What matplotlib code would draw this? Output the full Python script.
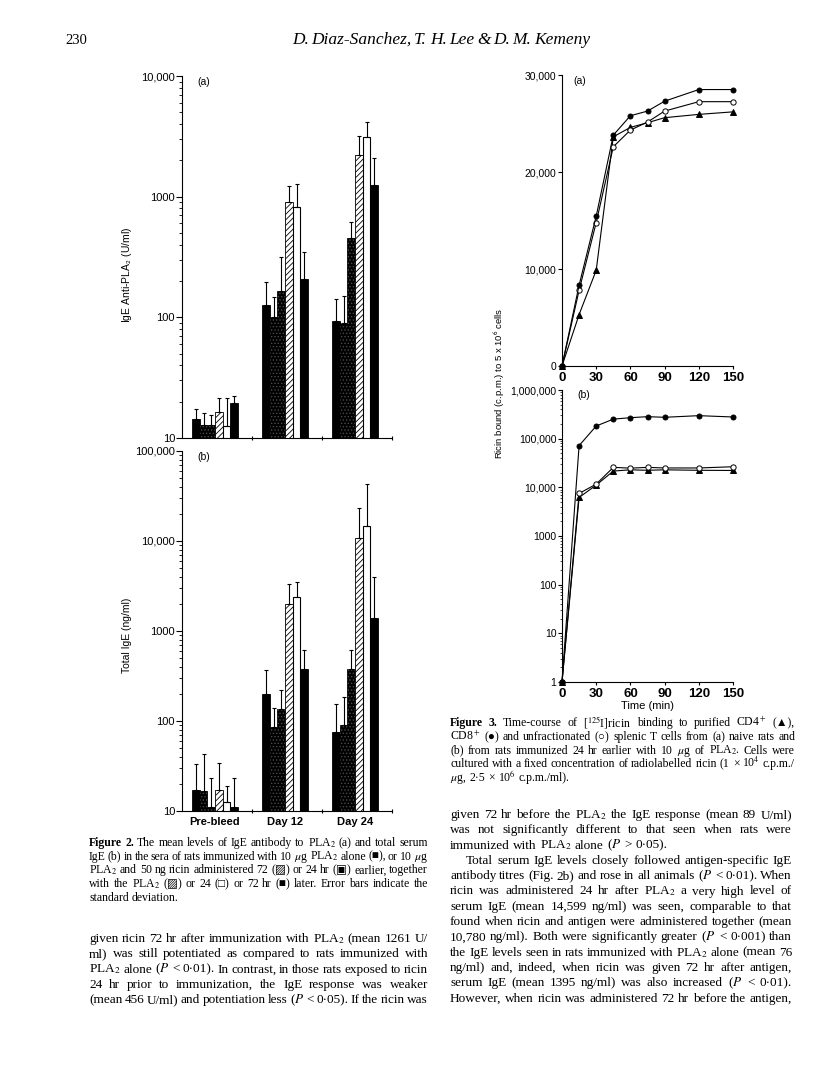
import matplotlib
matplotlib.use('Agg')
import matplotlib.pyplot as plt
from matplotlib.ticker import FixedLocator, FuncFormatter, LogLocator, NullFormatter
import numpy as np

W, H = 816, 1089
SANS = ['Liberation Sans', 'DejaVu Sans']
SERIF = ['Liberation Serif', 'DejaVu Sans']
plt.rcParams['font.family'] = SANS
plt.rcParams['mathtext.fontset'] = 'stix'
plt.rcParams['hatch.linewidth'] = 0.6

# ---- Figure 2 data (mean and SD, one value per treatment) ----
groups = ['Pre-bleed', 'Day 12', 'Day 24']
treatments = ['PLA2 alone', 'ricin 72 hr before', 'ricin 24 hr before',
              'ricin together', 'ricin 24 hr after', 'ricin 72 hr after']

anti_prebleed = [14.3, 12.8, 12.9, 16.5, 12.6, 19.6]
anti_day12 = [126, 100, 165, 908, 820, 206]
anti_day24 = [93, 89, 456, 2220, 3130, 1261]
anti_prebleed_sd = [3.0, 3.2, 2.6, 5.1, 8.7, 2.8]
anti_day12_sd = [71, 47, 153, 322, 445, 139]
anti_day24_sd = [49, 60, 164, 970, 1020, 840]

total_prebleed = [17, 16.5, 11, 17, 12.5, 11]
total_day12 = [198, 86, 137, 2014, 2388, 375]
total_day24 = [76, 90, 380, 10780, 14599, 1395]
total_prebleed_sd = [16, 26, 12.5, 17, 6.5, 12]
total_day12_sd = [168, 54, 82, 1290, 1140, 246]
total_day24_sd = [77, 95, 241, 12600, 28100, 2550]

# ---- Figure 3 data ----
time_min = [0, 15, 30, 45, 60, 75, 90, 120, 150]
naive_cd4 = [0, 5300, 9870, 23630, 24600, 25080, 25600, 25940, 26200]
naive_cd8 = [0, 8330, 15450, 23800, 25800, 26280, 27300, 28500, 28500]
naive_unfrac = [0, 7810, 14790, 22600, 24320, 25150, 26280, 27250, 27250]
immune_cd4 = [1, 6200, 11100, 21600, 22900, 22400, 22900, 22400, 22200]
immune_cd8 = [1, 72000, 182000, 252000, 270000, 283000, 275000, 297000, 279000]
immune_unfrac = [1, 7480, 11650, 25700, 24800, 25700, 25000, 25000, 26500]

fig = plt.figure(figsize=(8.16, 10.89), dpi=100)
renderer = fig.canvas.get_renderer()


def box(l, t, r, b):
    return [l / W, 1 - b / H, (r - l) / W, (b - t) / H]


def px(x, y):
    return x / W, 1 - y / H


def num_fmt(v, pos=None):
    v = int(round(v))
    return f'{v:,}' if v >= 10000 else f'{v}'


def clean(ax):
    ax.spines['top'].set_visible(False)
    ax.spines['right'].set_visible(False)
    for s in ax.spines.values():
        s.set_linewidth(0.8)


def bar_panel(ax, means, sds, top, labels):
    clean(ax)
    w = 0.1095
    for g in range(3):
        lefts = [g + 0.143 + j * w for j in range(6)]
        centers = [l + w / 2 for l in lefts]
        for j in range(6):
            if j == 3:
                ax.bar(lefts[j], means[g][j], w, align='edge', color='white',
                       edgecolor='black', hatch='//////', linewidth=0.6)
            elif j == 4:
                ax.bar(lefts[j], means[g][j], w, align='edge', color='white',
                       edgecolor='black', linewidth=0.8)
            else:
                ax.bar(lefts[j], means[g][j], w, align='edge', color='black',
                       edgecolor='black', linewidth=0.6)
                if j in (1, 2):
                    ax.bar(lefts[j], means[g][j], w, align='edge', color='none',
                           edgecolor='#4a4a4a', hatch='.....', linewidth=0)
        ax.errorbar(centers, means[g], yerr=[np.zeros(6), sds[g]], fmt='none',
                    ecolor='black', elinewidth=0.8, capsize=1.5, capthick=0.8, zorder=3)
    ax.set_yscale('log')
    ax.set_ylim(10, top)
    ax.set_xlim(0, 3)
    decades = [10 ** k for k in range(1, int(np.log10(top)) + 1)]
    ax.yaxis.set_major_locator(FixedLocator(decades))
    ax.yaxis.set_major_formatter(FuncFormatter(num_fmt))
    ax.yaxis.set_minor_locator(LogLocator(base=10, subs=np.arange(2, 10)))
    ax.yaxis.set_minor_formatter(NullFormatter())
    ax.tick_params(axis='y', which='major', length=4, width=0.8, labelsize=8, pad=1)
    ax.tick_params(axis='y', which='minor', length=2, width=0.6)
    ax.set_xticks([1, 2, 3])
    ax.set_xticklabels([])
    ax.tick_params(axis='x', which='major', length=3, direction='inout', width=0.8)
    if labels:
        ax.set_xticks([g + 0.143 + 3 * w for g in range(3)], minor=True)
        ax.set_xticklabels(groups, minor=True, fontsize=8, fontweight='bold')
        ax.tick_params(axis='x', which='minor', length=0, pad=4)


ax2a = fig.add_axes(box(182, 76, 392, 438))
bar_panel(ax2a, [anti_prebleed, anti_day12, anti_day24],
          [anti_prebleed_sd, anti_day12_sd, anti_day24_sd], 1e4, False)
ax2b = fig.add_axes(box(182, 451, 392, 811))
bar_panel(ax2b, [total_prebleed, total_day12, total_day24],
          [total_prebleed_sd, total_day12_sd, total_day24_sd], 1e5, True)

fig.text(*px(197, 82), '(a)', fontsize=7.5, ha='left', va='center')
fig.text(*px(197, 457), '(b)', fontsize=7.5, ha='left', va='center')
fig.text(*px(127, 275), r'IgE Anti-PLA$_\mathsf{2}$ (U/ml)', rotation=90,
         fontsize=7.5, ha='center', va='center')
fig.text(*px(127, 635), 'Total IgE (ng/ml)', rotation=90,
         fontsize=7.5, ha='center', va='center')


# ---- Figure 3 ----
def line_panel(ax, series):
    clean(ax)
    for y, marker, face, ms in series:
        ax.plot(time_min, y, color='black', linewidth=0.8, marker=marker,
                markerfacecolor=face, markeredgecolor='black', markersize=ms,
                markeredgewidth=0.7, clip_on=False)
    ax.set_xlim(0, 150)
    ax.set_xticks([0, 30, 60, 90, 120, 150])
    ax.tick_params(axis='x', length=2, width=0.8, labelsize=9.5, pad=2)
    for t in ax.get_xticklabels():
        t.set_fontweight('bold')
    ax.tick_params(axis='y', which='major', length=3, width=0.8, labelsize=7.5, pad=1)


ax3a = fig.add_axes(box(562, 75, 733, 366))
line_panel(ax3a, [(naive_cd4, '^', 'black', 4.5),
                  (naive_unfrac, 'o', 'white', 3.8),
                  (naive_cd8, 'o', 'black', 3.6)])
ax3a.set_ylim(0, 30000)
ax3a.yaxis.set_major_locator(FixedLocator([0, 10000, 20000, 30000]))
ax3a.yaxis.set_major_formatter(FuncFormatter(num_fmt))

ax3b = fig.add_axes(box(562, 390, 733, 682))
line_panel(ax3b, [(immune_cd4, '^', 'black', 4.5),
                  (immune_unfrac, 'o', 'white', 3.8),
                  (immune_cd8, 'o', 'black', 3.6)])
ax3b.set_yscale('log')
ax3b.set_ylim(1, 1e6)
ax3b.yaxis.set_major_locator(FixedLocator([10 ** k for k in range(7)]))
ax3b.yaxis.set_major_formatter(FuncFormatter(num_fmt))
ax3b.yaxis.set_minor_locator(LogLocator(base=10, subs=np.arange(2, 10)))
ax3b.yaxis.set_minor_formatter(NullFormatter())
ax3b.tick_params(axis='y', which='minor', length=1.5, width=0.5)
ax3b.set_xlabel('Time (min)', fontsize=8, labelpad=1)

fig.text(*px(573, 81), '(a)', fontsize=7.5, ha='left', va='center')
fig.text(*px(577, 395), '(b)', fontsize=7.5, ha='left', va='center')
fig.text(*px(500, 383), r'Ricin bound (c.p.m.) to 5 x 10$^\mathsf{6}$ cells',
         rotation=90, fontsize=6.8, ha='center', va='center')


# ---- page text ----
def put_line(text, x0, x1, yb, size, justify=True, bold_words=0, style='normal'):
    words = text.split()
    objs = []
    for i, w in enumerate(words):
        objs.append(fig.text(0, 0, w, fontsize=size, family=SERIF, va='baseline',
                             ha='left', style=style,
                             fontweight='bold' if i < bold_words else 'normal'))
    widths = [o.get_window_extent(renderer).width for o in objs]
    space = size * 100 / 72 * 0.25
    if justify and len(words) > 1:
        gap = max((x1 - x0 - sum(widths)) / (len(words) - 1), space * 0.6)
    else:
        gap = space
    x = x0
    for o, w in zip(objs, widths):
        o.set_position(px(x, yb))
        x += w + gap


fig.text(*px(65, 44), '230', fontsize=10.5, family=SERIF, va='baseline')
put_line('D. Diaz-Sanchez, T. H. Lee & D. M. Kemeny', 292, 588, 44, 12.5,
         style='italic')

cap2 = [
    'Figure 2. The mean levels of IgE antibody to PLA$_2$ (a) and total serum',
    'IgE (b) in the sera of rats immunized with 10 $\\mu$g PLA$_2$ alone (■), or 10 $\\mu$g',
    'PLA$_2$ and 50 ng ricin administered 72 (▨) or 24 hr (▣) earlier, together',
    'with the PLA$_2$ (▨) or 24 (□) or 72 hr (■) later. Error bars indicate the',
    'standard deviation.',
]
for i, line in enumerate(cap2):
    put_line(line, 89, 428, 846 + i * 13.7, 8.5, justify=i < 4,
             bold_words=2 if i == 0 else 0)

body_left = [
    'given ricin 72 hr after immunization with PLA$_2$ (mean 1261 U/',
    'ml) was still potentiated as compared to rats immunized with',
    'PLA$_2$ alone ($\\mathit{P}$ < 0·01). In contrast, in those rats exposed to ricin',
    '24 hr prior to immunization, the IgE response was weaker',
    '(mean 456 U/ml) and potentiation less ($\\mathit{P}$ < 0·05). If the ricin was',
]
for i, line in enumerate(body_left):
    put_line(line, 89, 428, 942 + i * 15.3, 9.5)

cap3 = [
    'Figure 3. Time-course of [$^{125}$I]ricin binding to purified CD4$^+$ (▲),',
    'CD8$^+$ (●) and unfractionated (○) splenic T cells from (a) naive rats and',
    '(b) from rats immunized 24 hr earlier with 10 $\\mu$g of PLA$_2$. Cells were',
    'cultured with a fixed concentration of radiolabelled ricin (1 × 10$^4$ c.p.m./',
    '$\\mu$g, 2·5 × 10$^6$ c.p.m./ml).',
]
for i, line in enumerate(cap3):
    put_line(line, 450, 795, 726 + i * 13.8, 8.5, justify=i < 4,
             bold_words=2 if i == 0 else 0)

body_right = [
    'given 72 hr before the PLA$_2$ the IgE response (mean 89 U/ml)',
    'was not significantly different to that seen when rats were',
    'immunized with PLA$_2$ alone ($\\mathit{P}$ > 0·05).',
    'Total serum IgE levels closely followed antigen-specific IgE',
    'antibody titres (Fig. 2b) and rose in all animals ($\\mathit{P}$ < 0·01). When',
    'ricin was administered 24 hr after PLA$_2$ a very high level of',
    'serum IgE (mean 14,599 ng/ml) was seen, comparable to that',
    'found when ricin and antigen were administered together (mean',
    '10,780 ng/ml). Both were significantly greater ($\\mathit{P}$ < 0·001) than',
    'the IgE levels seen in rats immunized with PLA$_2$ alone (mean 76',
    'ng/ml) and, indeed, when ricin was given 72 hr after antigen,',
    'serum IgE (mean 1395 ng/ml) was also increased ($\\mathit{P}$ < 0·01).',
    'However, when ricin was administered 72 hr before the antigen,',
]
for i, line in enumerate(body_right):
    put_line(line, 466 if i == 3 else 450, 792, 818 + i * 15.3, 9.5, justify=i != 2)

fig.savefig('out.png', dpi=100)
